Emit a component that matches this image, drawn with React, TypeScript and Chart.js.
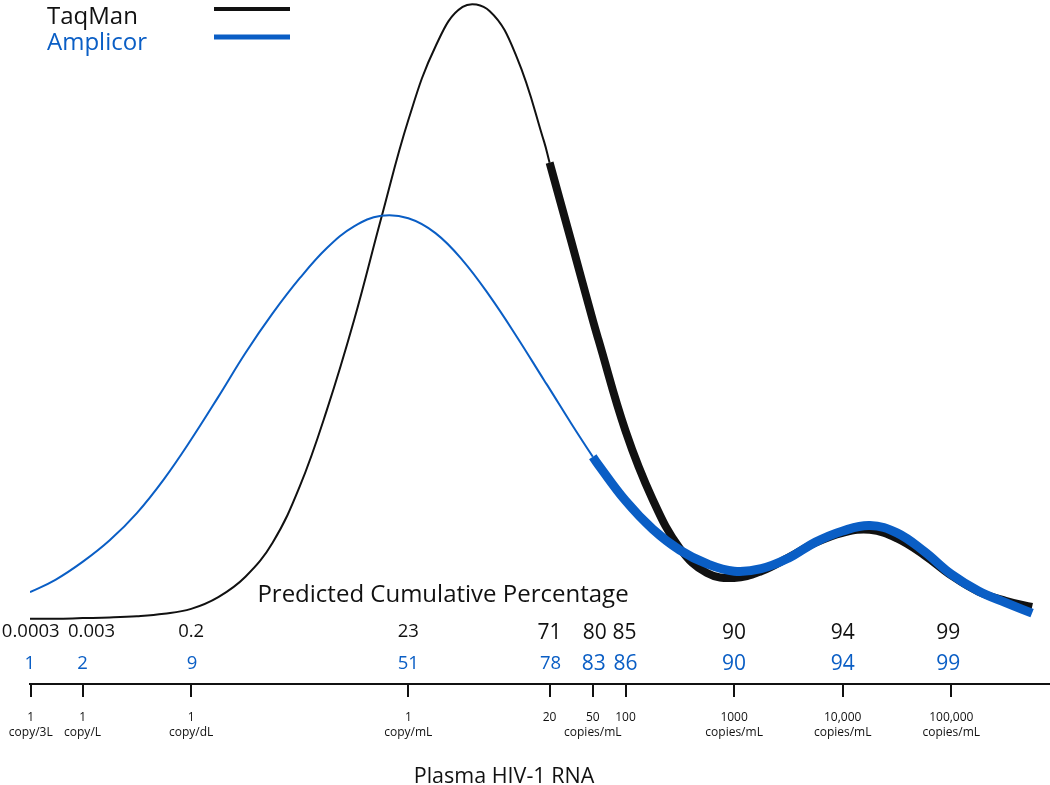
import React, { useEffect, useRef } from 'react';
import { Chart, registerables } from 'chart.js';

Chart.register(...registerables);

// log10 of plasma HIV-1 RNA (copies/mL) at which the curves were read
const logViralLoad = [
  -3.484, -3.25, -3.0, -2.75, -2.5, -2.25, -2.0, -1.75, -1.5, -1.25,
  -1.0, -0.75, -0.5, -0.25, 0, 0.25, 0.5, 0.75, 1.0, 1.25,
  1.301, 1.5, 1.699, 1.75, 2.0, 2.25, 2.5, 2.75, 3.0, 3.25,
  3.5, 3.75, 4.0, 4.25, 4.5, 4.75, 5.0, 5.25, 5.5, 5.744,
];

// relative frequency (arbitrary units, TaqMan peak ~100)
const taqmanDensity = [
  0.2, 0.2, 0.3, 0.4, 0.6, 1.0, 1.8, 3.7, 7.0, 12.5,
  21.6, 34.0, 48.5, 65.0, 80.9, 92.8, 99.2, 98.5, 91.0, 77.4,
  74.0, 61.3, 48.5, 45.4, 30.6, 19.5, 11.6, 7.6, 6.8, 7.9,
  10.1, 12.5, 14.1, 14.6, 13.2, 10.5, 7.2, 4.6, 3.1, 2.1,
];

const amplicorDensity = [
  4.5, 6.5, 9.4, 12.9, 17.3, 22.8, 29.2, 36.1, 43.2, 49.6,
  55.3, 60.2, 63.7, 65.4, 65.0, 62.6, 58.2, 52.4, 45.8, 38.8,
  37.4, 31.8, 26.4, 25.1, 19.3, 14.7, 11.3, 9.1, 7.9, 8.3,
  10.0, 12.6, 14.4, 15.3, 14.1, 11.1, 7.4, 4.7, 2.8, 1.1,
];

// axis ticks (copies/mL)
const tickCopiesPerMl = [1 / 3000, 0.001, 0.01, 1, 20, 50, 100, 1000, 10000, 100000];
const tickLabels = [
  ['1', 'copy/3L'],
  ['1', 'copy/L'],
  ['1', 'copy/dL'],
  ['1', 'copy/mL'],
  ['20', ''],
  ['50', 'copies/mL'],
  ['100', ''],
  ['1000', 'copies/mL'],
  ['10,000', 'copies/mL'],
  ['100,000', 'copies/mL'],
];

// predicted cumulative percentage at each tick
const taqmanCumulative = ['0.0003', '0.003', '0.2', '23', '71', '80', '85', '90', '94', '99'];
const amplicorCumulative = ['1', '2', '9', '51', '78', '83', '86', '90', '94', '99'];

// detection limits (copies/mL): curve drawn thick above them
const taqmanLimit = 20;
const amplicorLimit = 50;

// ---- styling ----
const FONT = '"Open Sans", "Noto Sans", sans-serif';
const BLACK = '#111111';
const BLUE = '#0a5ec5';
const taqmanLabelNudge = [0, 9, 0, 0, 0, 2, -1, 0, 0, -3];
const amplicorLabelNudge = [-1, 0, 1, 0, 1, 1, 0, 0, 0, -3];
const taqmanLargeFrom = 4;
const amplicorLargeFrom = 5;

const overlayPlugin = {
  id: 'hivOverlay',
  afterDraw(chart: any) {
    const ctx: CanvasRenderingContext2D = chart.ctx;
    const xs = chart.scales.x;
    const bottom = chart.chartArea.bottom;
    ctx.save();

    // legend
    ctx.textAlign = 'left';
    ctx.textBaseline = 'alphabetic';
    ctx.font = `24px ${FONT}`;
    ctx.fillStyle = BLACK;
    ctx.fillText('TaqMan', 47, 24);
    ctx.fillStyle = BLUE;
    ctx.fillText('Amplicor', 47, 50);
    ctx.lineCap = 'butt';
    ctx.strokeStyle = BLACK;
    ctx.lineWidth = 4;
    ctx.beginPath();
    ctx.moveTo(214, 9);
    ctx.lineTo(290, 9);
    ctx.stroke();
    ctx.strokeStyle = BLUE;
    ctx.lineWidth = 5;
    ctx.beginPath();
    ctx.moveTo(214, 37);
    ctx.lineTo(290, 37);
    ctx.stroke();

    // subtitle
    ctx.textAlign = 'center';
    ctx.fillStyle = BLACK;
    ctx.font = `24px ${FONT}`;
    ctx.fillText('Predicted Cumulative Percentage', 443, bottom - 82);

    // cumulative percentages
    tickCopiesPerMl.forEach((v, i) => {
      const px = xs.getPixelForValue(v);
      const bigT = i >= taqmanLargeFrom;
      ctx.fillStyle = BLACK;
      ctx.font = `${bigT ? 21 : 18.5}px ${FONT}`;
      ctx.fillText(taqmanCumulative[i], px + taqmanLabelNudge[i], bigT ? bottom - 45 : bottom - 47);
      const bigA = i >= amplicorLargeFrom;
      ctx.fillStyle = BLUE;
      ctx.font = `${bigA ? 21 : 18.5}px ${FONT}`;
      ctx.fillText(amplicorCumulative[i], px + amplicorLabelNudge[i], bigA ? bottom - 14 : bottom - 15.5);
    });

    // axis title
    ctx.fillStyle = BLACK;
    ctx.font = `21.5px ${FONT}`;
    ctx.fillText('Plasma HIV-1 RNA', 504, bottom + 99);
    ctx.restore();
  },
};

export default function App() {
  const canvasRef = useRef<HTMLCanvasElement>(null);

  useEffect(() => {
    const canvas = canvasRef.current;
    if (!canvas) return;
    const toPoints = (ys: number[]) => logViralLoad.map((l, i) => ({ x: Math.pow(10, l), y: ys[i] }));

    const chart = new Chart(canvas, {
      type: 'line',
      data: {
        datasets: [
          {
            label: 'Amplicor',
            data: toPoints(amplicorDensity),
            borderColor: BLUE,
            borderWidth: 2,
            pointRadius: 0,
            tension: 0.4,
            fill: false,
            order: 0,
            segment: {
              borderWidth: (c: any) => (c.p0.parsed.x >= amplicorLimit * 0.99 ? 9 : 2),
            },
          },
          {
            label: 'TaqMan',
            data: toPoints(taqmanDensity),
            borderColor: BLACK,
            borderWidth: 2,
            pointRadius: 0,
            tension: 0.4,
            fill: false,
            order: 1,
            segment: {
              borderWidth: (c: any) => (c.p0.parsed.x >= taqmanLimit * 0.99 ? 8 : 2),
            },
          },
        ],
      },
      options: {
        responsive: false,
        animation: false,
        devicePixelRatio: 1,
        layout: { padding: { left: 30, right: 0, top: 0, bottom: 0 } },
        plugins: {
          legend: { display: false },
          tooltip: { enabled: false },
        },
        events: [],
        scales: {
          x: {
            type: 'logarithmic',
            min: Math.pow(10, -3.484),
            max: Math.pow(10, 5.909),
            bounds: 'data',
            afterBuildTicks: (scale: any) => {
              scale.ticks = tickCopiesPerMl.map((value) => ({ value }));
            },
            afterFit: (scale: any) => {
              scale.height = 101;
              scale.paddingLeft = 0;
              scale.paddingRight = 0;
            },
            grid: {
              drawOnChartArea: false,
              drawTicks: true,
              tickLength: 13,
              color: BLACK,
              lineWidth: 2,
            },
            border: { display: true, color: BLACK, width: 2 },
            ticks: {
              autoSkip: false,
              maxRotation: 0,
              minRotation: 0,
              padding: 13,
              color: BLACK,
              font: { family: FONT, size: 12, lineHeight: 1.25 },
              callback: (_v: any, i: number) => tickLabels[i],
            },
            title: { display: false },
          },
          y: {
            display: false,
            min: -10.36,
            max: 100.32,
          },
        },
      },
      plugins: [overlayPlugin],
    } as any);

    return () => chart.destroy();
  }, []);

  return (
    <div style={{ position: 'fixed', left: 0, top: 0, width: 1050, height: 785, background: '#fff' }}>
      <canvas ref={canvasRef} width={1050} height={785} style={{ display: 'block' }} />
    </div>
  );
}
